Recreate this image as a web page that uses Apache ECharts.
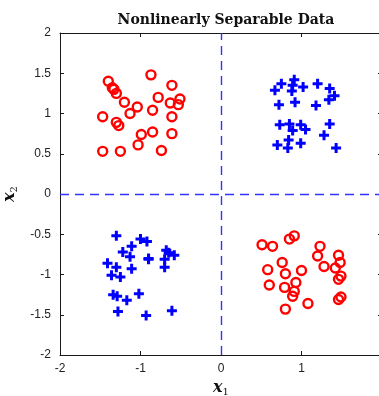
<!DOCTYPE html>
<html>
<head>
<meta charset="utf-8">
<script src="https://cdn.jsdelivr.net/npm/echarts@6/dist/echarts.min.js"></script>
<style>
  html, body { margin: 0; padding: 0; background: #fff; }
  #chart { width: 379px; height: 396px; }
</style>
</head>
<body>
<div id="chart"></div>
<script>
// class 1 (red circles): top-left and bottom-right quadrants
const redTopLeft = [
  [-1.40, 1.40], [-1.35, 1.32], [-1.33, 1.30], [-1.30, 1.25], [-0.87, 1.48],
  [-0.61, 1.35], [-1.20, 1.14], [-0.78, 1.20], [-0.51, 1.18], [-0.63, 1.13],
  [-0.53, 1.11], [-1.04, 1.08], [-1.47, 0.96], [-1.13, 1.00], [-0.85, 1.04],
  [-0.61, 0.96], [-1.30, 0.89], [-1.27, 0.85], [-0.99, 0.74], [-0.85, 0.77],
  [-0.61, 0.75], [-1.03, 0.61], [-1.47, 0.53], [-1.25, 0.53], [-0.74, 0.54]
];
const redBottomRight = [
  [0.51, -0.63], [0.64, -0.65], [0.85, -0.56], [0.91, -0.52], [1.23, -0.65],
  [1.20, -0.77], [1.46, -0.76], [1.48, -0.85], [0.76, -0.85], [0.58, -0.94],
  [1.00, -0.95], [0.80, -0.99], [1.28, -0.90], [1.42, -0.92], [1.49, -1.02],
  [1.46, -1.06], [0.60, -1.13], [0.93, -1.10], [0.79, -1.16], [0.91, -1.21],
  [0.89, -1.27], [1.08, -1.36], [1.49, -1.28], [1.46, -1.31], [0.80, -1.43]
];
// class 2 (blue plus): top-right and bottom-left quadrants
const blueTopRight = [
  [0.75, 1.37], [0.91, 1.42], [0.89, 1.35], [0.67, 1.29], [0.88, 1.28],
  [1.02, 1.33], [1.20, 1.37], [1.35, 1.31], [1.41, 1.22], [1.34, 1.17],
  [0.72, 1.11], [0.92, 1.14], [1.18, 1.10], [0.73, 0.86], [0.85, 0.87],
  [0.89, 0.79], [0.99, 0.86], [1.05, 0.80], [1.35, 0.87], [1.28, 0.73],
  [0.84, 0.67], [0.70, 0.61], [0.83, 0.57], [0.99, 0.63], [1.43, 0.57]
];
const blueBottomLeft = [
  [-1.30, -0.52], [-1.00, -0.56], [-0.92, -0.59], [-1.11, -0.65], [-1.22, -0.72],
  [-0.68, -0.70], [-0.65, -0.73], [-0.58, -0.76], [-1.13, -0.78], [-0.90, -0.80],
  [-0.90, -0.81], [-0.70, -0.81], [-1.41, -0.86], [-1.30, -0.91], [-1.11, -0.93],
  [-0.70, -0.91], [-1.36, -1.01], [-1.25, -1.03], [-1.34, -1.25], [-1.29, -1.27],
  [-1.17, -1.32], [-1.02, -1.24], [-1.28, -1.46], [-0.93, -1.51], [-0.61, -1.45]
];

const xTicks = [-2, -1, 0, 1, 2];
const yTicks = [-2, -1.5, -1, -0.5, 0, 0.5, 1, 1.5, 2];

const plusPath = 'path://M3.5,0H6.5V3.5H10V6.5H6.5V10H3.5V6.5H0V3.5H3.5Z';
const axisColor = '#1a1a1a';
const refLine = { color: '#3333ff', width: 1.4, type: [9, 6], opacity: 1 };
const tickFont = { color: '#222', fontSize: 12, fontFamily: 'Liberation Sans' };
const mathRich = {
  v: { fontFamily: 'DejaVu Serif', fontStyle: 'italic', fontWeight: 'bold', fontSize: 16, color: '#111' },
  s: { fontFamily: 'DejaVu Serif', fontSize: 10, color: '#111', padding: [9, 0, 0, 0] }
};

const chart = echarts.init(document.getElementById('chart'));

const baseAxis = {
  type: 'value',
  axisLine: { show: true, onZero: false, lineStyle: { color: axisColor, width: 1 } },
  axisTick: { show: true, inside: true, length: 4, lineStyle: { color: axisColor } },
  splitLine: { show: false }
};

chart.setOption({
  animation: false,
  backgroundColor: '#fff',
  title: {
    text: 'Nonlinearly Separable Data',
    left: 221,
    top: 8,
    textAlign: 'center',
    textStyle: { fontFamily: 'DejaVu Serif', fontWeight: 'bold', fontSize: 14, color: '#111' }
  },
  grid: { left: 60, right: -3, top: 33, bottom: 41, containLabel: false, outerBoundsMode: 'none' },
  xAxis: [
    Object.assign({}, baseAxis, {
      min: xTicks[0], max: xTicks[xTicks.length - 1], interval: 1,
      position: 'bottom',
      axisLabel: Object.assign({ margin: 8 }, tickFont),
      name: '{v|x}{s|1}',
      nameLocation: 'middle',
      nameGap: 23,
      nameTextStyle: { rich: mathRich }
    }),
    Object.assign({}, baseAxis, {
      min: xTicks[0], max: xTicks[xTicks.length - 1], interval: 1,
      position: 'top',
      axisLabel: { show: false }
    })
  ],
  yAxis: [
    Object.assign({}, baseAxis, {
      min: yTicks[0], max: yTicks[yTicks.length - 1], interval: 0.5,
      position: 'left',
      axisLabel: Object.assign({ margin: 9 }, tickFont),
      name: '{v|x}{s|2}',
      nameLocation: 'middle',
      nameGap: 27,
      nameRotate: 90,
      nameTextStyle: { rich: mathRich }
    }),
    Object.assign({}, baseAxis, {
      min: yTicks[0], max: yTicks[yTicks.length - 1], interval: 0.5,
      position: 'right',
      axisLabel: { show: false }
    })
  ],
  series: [
    {
      type: 'scatter',
      data: redTopLeft.concat(redBottomRight),
      symbol: 'circle',
      symbolSize: 9,
      z: 3,
      itemStyle: { color: 'rgba(255,255,255,0)', borderColor: '#ff0000', borderWidth: 2.4, opacity: 1 }
    },
    {
      type: 'scatter',
      data: blueTopRight.concat(blueBottomLeft),
      symbol: plusPath,
      symbolSize: 10,
      z: 3,
      itemStyle: { color: '#0000ff', opacity: 1 }
    },
    {
      // zero reference lines
      type: 'scatter',
      data: [],
      z: 1,
      markLine: {
        silent: true,
        symbol: 'none',
        label: { show: false },
        lineStyle: refLine,
        emphasis: { disabled: true },
        data: [
          { xAxis: 0, lineStyle: refLine },
          { yAxis: 0, lineStyle: refLine }
        ]
      }
    }
  ]
});
</script>
</body>
</html>
